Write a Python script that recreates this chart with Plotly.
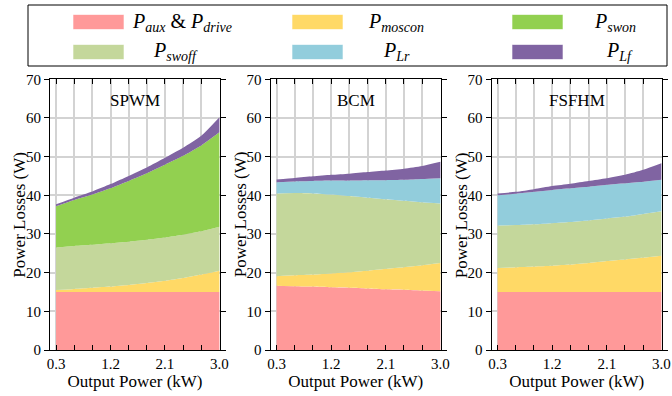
import plotly.graph_objects as go

# ---------------- data ----------------
power_kw = [0.3, 0.6, 0.9, 1.2, 1.5, 1.8, 2.1, 2.4, 2.7, 3.0]
x_major_ticks = [0.3, 1.2, 2.1, 3.0]
x_tick_labels = ["0.3", "1.2", "2.1", "3.0"]
x_minor_ticks = [0.6, 0.9, 1.5, 1.8, 2.4, 2.7]
y_ticks = [0, 10, 20, 30, 40, 50, 60, 70]

panel_names = ["SPWM", "BCM", "FSFHM"]

# SPWM losses (W)
spwm_aux = [15.0, 15.0, 15.0, 15.0, 15.0, 15.0, 15.0, 15.0, 15.0, 15.0]
spwm_moscon = [0.5, 0.8, 1.1, 1.4, 1.8, 2.3, 2.9, 3.6, 4.5, 5.5]
spwm_swoff = [11.0, 11.1, 11.1, 11.2, 11.2, 11.2, 11.2, 11.2, 11.2, 11.4]
spwm_swon = [10.7, 11.9, 13.0, 14.2, 15.7, 17.2, 18.8, 20.4, 22.2, 24.4]
spwm_lr = [0, 0, 0, 0, 0, 0, 0, 0, 0, 0]
spwm_lf = [0.5, 0.6, 0.8, 1.1, 1.3, 1.5, 1.8, 2.1, 2.5, 3.9]

# BCM losses (W)
bcm_aux = [16.6, 16.5, 16.4, 16.2, 16.1, 15.9, 15.7, 15.6, 15.4, 15.2]
bcm_moscon = [2.5, 2.8, 3.1, 3.6, 4.0, 4.6, 5.3, 5.8, 6.5, 7.3]
bcm_swoff = [21.4, 21.3, 21.0, 20.4, 19.7, 18.9, 18.0, 17.2, 16.3, 15.4]
bcm_swon = [0, 0, 0, 0, 0, 0, 0, 0, 0, 0]
bcm_lr = [2.9, 3.0, 3.2, 3.6, 4.0, 4.5, 4.9, 5.4, 6.0, 6.5]
bcm_lf = [0.7, 0.9, 1.2, 1.5, 1.8, 2.1, 2.5, 2.9, 3.4, 4.3]

# FSFHM losses (W)
fsfhm_aux = [15.0, 15.0, 15.0, 15.0, 15.0, 15.0, 15.0, 15.0, 15.0, 15.0]
fsfhm_moscon = [6.2, 6.4, 6.6, 6.8, 7.1, 7.5, 8.0, 8.4, 8.9, 9.4]
fsfhm_swoff = [11.0, 10.9, 10.9, 11.0, 11.0, 11.0, 11.0, 11.1, 11.3, 11.5]
fsfhm_swon = [0, 0, 0, 0, 0, 0, 0, 0, 0, 0]
fsfhm_lr = [7.8, 8.1, 8.4, 8.6, 8.7, 8.7, 8.7, 8.6, 8.3, 8.1]
fsfhm_lf = [0.5, 0.5, 0.7, 1.0, 1.2, 1.5, 1.7, 2.2, 3.1, 4.3]

series_labels = [
    "<i>P</i><sub><i>aux</i></sub> & <i>P</i><sub><i>drive</i></sub>",
    "<i>P</i><sub><i>moscon</i></sub>",
    "<i>P</i><sub><i>swon</i></sub>",
    "<i>P</i><sub><i>swoff</i></sub>",
    "<i>P</i><sub><i>Lr</i></sub>",
    "<i>P</i><sub><i>Lf</i></sub>",
]
series_colors = ["#FF9999", "#FFD966", "#92D050", "#C4D79B", "#92CDDC", "#8064A2"]

# stacking order bottom -> top: aux, moscon, swoff, swon, Lr, Lf
panels = [
    [spwm_aux, spwm_moscon, spwm_swoff, spwm_swon, spwm_lr, spwm_lf],
    [bcm_aux, bcm_moscon, bcm_swoff, bcm_swon, bcm_lr, bcm_lf],
    [fsfhm_aux, fsfhm_moscon, fsfhm_swoff, fsfhm_swon, fsfhm_lr, fsfhm_lf],
]
stack_color_idx = [0, 1, 3, 2, 4, 5]

W, H = 672, 396
FONT = "Liberation Serif, Times New Roman, serif"
GRID = "#D3D3D3"

fig = go.Figure()

x_domains = [[50 / W, 220 / W], [270.5 / W, 441 / W], [491.5 / W, 662 / W]]
y_domain = [(H - 350) / H, (H - 79.3) / H]

for p, comps in enumerate(panels):
    ax = "" if p == 0 else str(p + 1)
    for k, vals in enumerate(comps):
        if all(v == 0 for v in vals):
            continue
        c = series_colors[stack_color_idx[k]]
        fig.add_trace(go.Scatter(
            x=power_kw, y=vals, xaxis="x" + ax, yaxis="y" + ax,
            stackgroup="g" + str(p), mode="lines",
            line=dict(width=0, shape="spline", smoothing=0.6, color=c),
            fillcolor=c, showlegend=False, hoverinfo="skip",
        ))
    fig.layout["xaxis" + ax] = dict(
        domain=x_domains[p], range=[0.2, 3.01], anchor="y" + ax,
        tickvals=x_major_ticks, ticktext=x_tick_labels,
        ticks="inside", ticklen=5, tickcolor="black", tickwidth=1,
        minor=dict(tickvals=x_minor_ticks, ticks="inside", ticklen=5,
                   tickcolor="black", tickwidth=1,
                   showgrid=True, gridcolor=GRID, gridwidth=1.5),
        showline=True, linecolor="black", linewidth=1, mirror="ticks",
        showgrid=True, gridcolor=GRID, gridwidth=1.5,
        zeroline=False, layer="above traces", automargin=False,
        tickfont=dict(family=FONT, size=15, color="black"),
        title=dict(text="Output Power (kW)", font=dict(family=FONT, size=17, color="black"), standoff=4),
    )
    fig.layout["yaxis" + ax] = dict(
        domain=y_domain, range=[0, 70], anchor="x" + ax,
        tickvals=y_ticks,
        ticks="outside", ticklen=5, tickcolor="black", tickwidth=1,
        showline=True, linecolor="black", linewidth=1, mirror="ticks",
        showgrid=True, gridcolor=GRID, gridwidth=1.5,
        zeroline=False, layer="above traces", automargin=False,
        tickfont=dict(family=FONT, size=15, color="black"),
    )
    # y-axis title placed close to the tick labels, as in the reference
    fig.add_annotation(
        x=(x_domains[p][0] * W - 30) / W, y=(y_domain[0] + y_domain[1]) / 2,
        xref="paper", yref="paper", text="Power Losses (W)", showarrow=False,
        textangle=-90, xanchor="center", yanchor="middle",
        font=dict(family=FONT, size=17, color="black"),
    )
    fig.add_annotation(
        x=(x_domains[p][0] + x_domains[p][1]) / 2, y=1 - 100 / H,
        xref="paper", yref="paper", text=panel_names[p], showarrow=False,
        font=dict(family=FONT, size=17, color="black"), xanchor="center", yanchor="middle",
    )

# ---------------- manual legend ----------------
fig.add_shape(type="rect", xref="paper", yref="paper",
              x0=28 / W, x1=667 / W, y0=1 - 66 / H, y1=1 - 5 / H,
              line=dict(color="black", width=1), fillcolor="white")

legend_cells = [
    (73, 22, 130), (292, 22, 366), (512, 22, 592),
    (73, 52, 151), (292, 52, 381), (512, 52, 604),
]
for i, (sx, cy, tx) in enumerate(legend_cells):
    fig.add_shape(type="rect", xref="paper", yref="paper",
                  x0=sx / W, x1=(sx + 51) / W, y0=1 - (cy + 7.5) / H, y1=1 - (cy - 7.5) / H,
                  line=dict(color="rgba(255,255,255,0.6)", width=1), fillcolor=series_colors[i])
    fig.add_annotation(x=tx / W, y=1 - cy / H, xref="paper", yref="paper",
                       text=series_labels[i], showarrow=False,
                       xanchor="left", yanchor="middle",
                       font=dict(family=FONT, size=20, color="black"))

fig.update_layout(
    width=W, height=H, margin=dict(l=0, r=0, t=0, b=0),
    paper_bgcolor="white", plot_bgcolor="white",
    showlegend=False,
    font=dict(family=FONT, color="black"),
)

fig.write_html(
    "out.html",
    config={"displayModeBar": False},
    post_script="document.body.style.margin='0';document.body.style.padding='0';",
)
